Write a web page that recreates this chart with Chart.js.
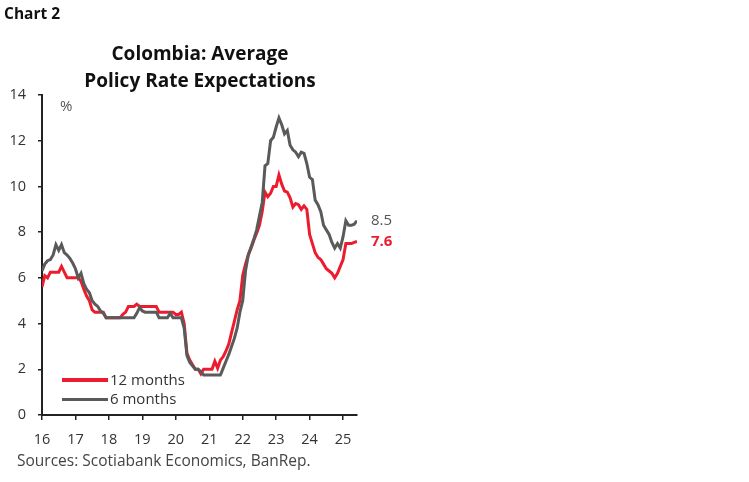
<!DOCTYPE html>
<html>
<head>
<meta charset="utf-8">
<script src="https://cdn.jsdelivr.net/npm/chart.js@4.4.1/dist/chart.umd.min.js"></script>
<style>
  html, body { margin: 0; padding: 0; background: #fff; }
  #wrap { position: relative; width: 749px; height: 482px; overflow: hidden; font-family: "Open Sans", "Noto Sans", sans-serif; }
  #wrap canvas { position: absolute; left: 0; top: 0; }
  .txt { position: absolute; white-space: nowrap; line-height: 1; }
  #chartno { left: 4px; top: 6px; font-weight: bold; font-size: 15.5px; color: #111; }
  #title { left: 0; width: 400px; top: 40px; text-align: center; font-weight: bold; font-size: 19px; line-height: 27px; color: #111; }
  #pct { left: 60px; top: 98px; font-size: 15px; color: #555; }
  #src { left: 17px; top: 453px; font-size: 15.5px; color: #444; }
  .lg { position: absolute; left: 62px; width: 46px; height: 3.5px; }
  .lgt { left: 110px; font-size: 15px; color: #333; }
</style>
</head>
<body>
<div id="wrap">
  <canvas id="c" width="749" height="482"></canvas>
  <div class="txt" id="chartno">Chart 2</div>
  <div class="txt" id="title">Colombia: Average<br>Policy Rate Expectations</div>
  <div class="txt" id="pct">%</div>
  <div class="lg" style="top:378px;background:#EC1C2E"></div>
  <div class="txt lgt" style="top:371.5px">12 months</div>
  <div class="lg" style="top:397.5px;background:#5A5A5A"></div>
  <div class="txt lgt" style="top:391px">6 months</div>
  <div class="txt" id="src">Sources: Scotiabank Economics, BanRep.</div>
</div>
<script>
// Monthly series, January 2016 through June 2025
const startYear = 2016;
const seriesNames = ["12 months", "6 months"];
const rate12m = [
  5.6, 6.1, 6.0, 6.25, 6.25, 6.25, 6.25, 6.5, 6.25, 6.0, 6.0, 6.0,      // 2016
  6.0, 6.0, 5.85, 5.5, 5.2, 5.0, 4.6, 4.5, 4.5, 4.5, 4.5, 4.25,        // 2017
  4.25, 4.25, 4.25, 4.25, 4.25, 4.4, 4.5, 4.75, 4.75, 4.75, 4.85, 4.75, // 2018
  4.75, 4.75, 4.75, 4.75, 4.75, 4.75, 4.5, 4.5, 4.5, 4.5, 4.5, 4.5,    // 2019
  4.4, 4.4, 4.5, 4.0, 2.7, 2.4, 2.2, 2.0, 2.0, 1.8, 2.0, 2.0,          // 2020
  2.0, 2.0, 2.35, 2.05, 2.4, 2.55, 2.8, 3.1, 3.6, 4.1, 4.6, 5.0,       // 2021
  6.1, 6.6, 7.0, 7.3, 7.65, 7.95, 8.3, 8.9, 9.75, 9.55, 9.7, 10.0,     // 2022
  10.0, 10.5, 10.1, 9.8, 9.75, 9.5, 9.1, 9.25, 9.2, 9.0, 9.15, 9.0,    // 2023
  7.9, 7.5, 7.1, 6.9, 6.8, 6.6, 6.4, 6.3, 6.2, 6.0, 6.2, 6.5,          // 2024
  6.8, 7.5, 7.5, 7.5, 7.55, 7.6                                         // 2025
];
const rate6m = [
  6.3, 6.6, 6.75, 6.8, 7.0, 7.45, 7.2, 7.45, 7.1, 7.0, 6.85, 6.65,     // 2016
  6.4, 6.0, 6.2, 5.75, 5.5, 5.35, 5.0, 4.85, 4.75, 4.55, 4.45, 4.25,   // 2017
  4.25, 4.25, 4.25, 4.25, 4.25, 4.25, 4.25, 4.25, 4.25, 4.25, 4.45, 4.7, // 2018
  4.55, 4.5, 4.5, 4.5, 4.5, 4.5, 4.25, 4.25, 4.25, 4.25, 4.45, 4.25,   // 2019
  4.25, 4.25, 4.25, 3.8, 2.6, 2.3, 2.15, 2.0, 2.0, 1.9, 1.75, 1.75,    // 2020
  1.75, 1.75, 1.75, 1.75, 1.75, 2.05, 2.35, 2.65, 3.0, 3.35, 3.8, 4.5, // 2021
  5.0, 6.3, 7.0, 7.35, 7.7, 8.1, 8.7, 9.3, 10.9, 11.0, 12.0, 12.15,    // 2022
  12.6, 13.0, 12.7, 12.3, 12.45, 11.8, 11.6, 11.5, 11.3, 11.5, 11.45, 11.0, // 2023
  10.4, 10.3, 9.4, 9.2, 8.9, 8.3, 8.1, 7.9, 7.55, 7.3, 7.5, 7.3,       // 2024
  7.8, 8.5, 8.3, 8.3, 8.35, 8.5                                         // 2025
];
const yTicks = [0, 2, 4, 6, 8, 10, 12, 14];
const xTickYears = [2016, 2017, 2018, 2019, 2020, 2021, 2022, 2023, 2024, 2025];

const RED = "#EC1C2E", GRAY = "#5A5A5A";
const toPoints = arr => arr.map((v, i) => ({ x: startYear + i / 12, y: v }));
const lastX = startYear + (rate12m.length - 1) / 12;

const endLabels = {
  id: "endLabels",
  afterDatasetsDraw(chart) {
    const ctx = chart.ctx;
    ctx.save();
    ctx.textBaseline = "middle";
    ctx.textAlign = "left";
    chart.data.datasets.forEach((ds, di) => {
      const meta = chart.getDatasetMeta(di);
      const pt = meta.data[meta.data.length - 1];
      const val = ds.data[ds.data.length - 1].y;
      ctx.font = (ds.labelBold ? "bold " : "") + "15px 'Open Sans', 'Noto Sans', sans-serif";
      ctx.fillStyle = ds.labelColor;
      ctx.fillText(val.toFixed(1), pt.x + 14, pt.y + 0.5);
    });
    ctx.restore();
  }
};

new Chart(document.getElementById("c"), {
  type: "line",
  data: {
    datasets: [
      { label: seriesNames[1], data: toPoints(rate6m), borderColor: GRAY, borderWidth: 3,
        pointRadius: 0, tension: 0, labelColor: "#555", labelBold: false },
      { label: seriesNames[0], data: toPoints(rate12m), borderColor: RED, borderWidth: 3,
        pointRadius: 0, tension: 0, labelColor: RED, labelBold: true }
    ]
  },
  options: {
    responsive: false,
    animation: false,
    events: [],
    layout: { padding: { left: 0, top: 95, right: 392, bottom: 0 } },
    plugins: { legend: { display: false }, title: { display: false }, tooltip: { enabled: false } },
    scales: {
      x: {
        type: "linear",
        min: startYear,
        max: lastX,
        afterBuildTicks: s => { s.ticks = xTickYears.map(v => ({ value: v })); },
        afterFit: s => { s.height = 67; },
        ticks: {
          callback: v => String(v).slice(2),
          color: "#333",
          font: { family: "'Open Sans', 'Noto Sans', sans-serif", size: 14.5 },
          padding: 11,
          maxRotation: 0,
          autoSkip: false
        },
        grid: { display: true, drawOnChartArea: false, drawTicks: true, tickLength: 5, tickColor: "#222", lineWidth: 1.5 },
        border: { display: true, color: "#222", width: 2 }
      },
      y: {
        min: 0,
        max: 14,
        afterBuildTicks: s => { s.ticks = yTicks.map(v => ({ value: v })); },
        afterFit: s => { s.width = 42; },
        ticks: {
          color: "#333",
          font: { family: "'Open Sans', 'Noto Sans', sans-serif", size: 14.5 },
          padding: 12
        },
        grid: { display: true, drawOnChartArea: false, drawTicks: true, tickLength: 4, tickColor: "#222", lineWidth: 1.5 },
        border: { display: true, color: "#222", width: 2 }
      }
    }
  },
  plugins: [endLabels]
});
</script>
</body>
</html>
